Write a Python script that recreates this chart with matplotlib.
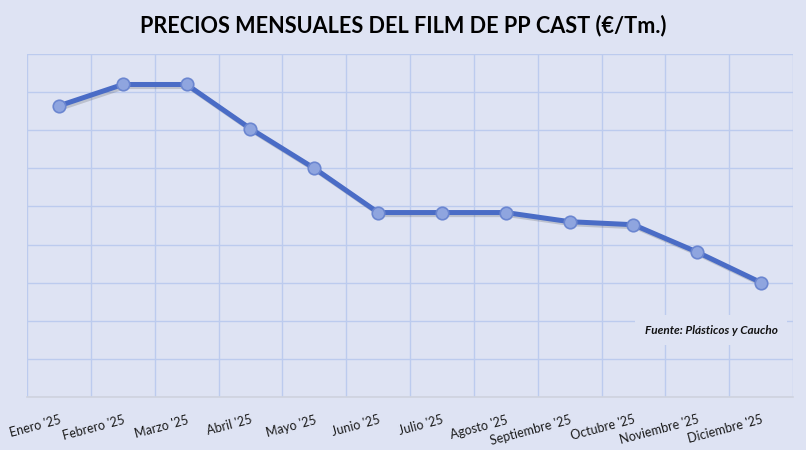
import matplotlib.pyplot as plt
import matplotlib.patheffects as pe

meses = ["Enero '25", "Febrero '25", "Marzo '25", "Abril '25", "Mayo '25", "Junio '25",
         "Julio '25", "Agosto '25", "Septiembre '25", "Octubre '25", "Noviembre '25", "Diciembre '25"]
precios = [1591, 1605, 1605, 1576, 1550, 1521, 1521, 1521, 1515, 1513, 1495, 1475]

base = 1400
paso = 25

fondo = '#dee3f3'
fig = plt.figure(figsize=(8.06, 4.5), dpi=100)
fig.patch.set_facecolor(fondo)
ax = fig.add_axes([0.0335, 0.1178, 0.9505, 0.7622])
ax.set_facecolor(fondo)

x = list(range(len(meses)))
ax.plot(x, precios, color='#4a6cc6', lw=3.6, solid_capstyle='round', zorder=3,
        path_effects=[pe.SimpleLineShadow(offset=(1.5, -1.5), alpha=0.15), pe.Normal()])
ax.plot(x, precios, 'o', ms=9, mfc='#8fa5df', mec='#6b86d0', mew=1.2, zorder=4)

ax.set_xlim(-0.5, len(meses) - 0.5)
ax.set_ylim(base, base + 9 * paso)
ax.set_yticks([base + i * paso for i in range(10)])
ax.set_yticklabels([])
ax.set_xticks([i - 0.5 for i in range(len(meses) + 1)], minor=True)
ax.set_xticks(x)
ax.set_xticklabels(meses, rotation=15, ha='right', rotation_mode='anchor',
                   fontsize=9, family='Lato', color='#1a1a1a')
ax.tick_params(axis='both', which='both', length=0)
ax.tick_params(axis='x', pad=12)
ax.grid(True, axis='y', color='#bccbee', lw=1)
ax.grid(True, axis='x', which='minor', color='#bccbee', lw=1)
for s in ['top', 'right', 'left']:
    ax.spines[s].set_visible(False)
ax.spines['bottom'].set_color('#cfd3de')
ax.spines['bottom'].set_linewidth(1.2)

fig.text(0.5, 0.943, 'PRECIOS MENSUALES DEL FILM DE PP CAST (€/Tm.)', ha='center', va='center',
         fontsize=15.6, fontweight='bold', family='Lato', color='black')

ax.text(0.893, 0.195, 'Fuente: Plásticos y Caucho', transform=ax.transAxes, ha='center', va='center',
        fontsize=8.5, fontweight='bold', style='italic', family='Lato', color='#111111', zorder=5,
        bbox=dict(facecolor=fondo, edgecolor='none', pad=7))

fig.savefig('out.png', dpi=100, facecolor=fondo)
